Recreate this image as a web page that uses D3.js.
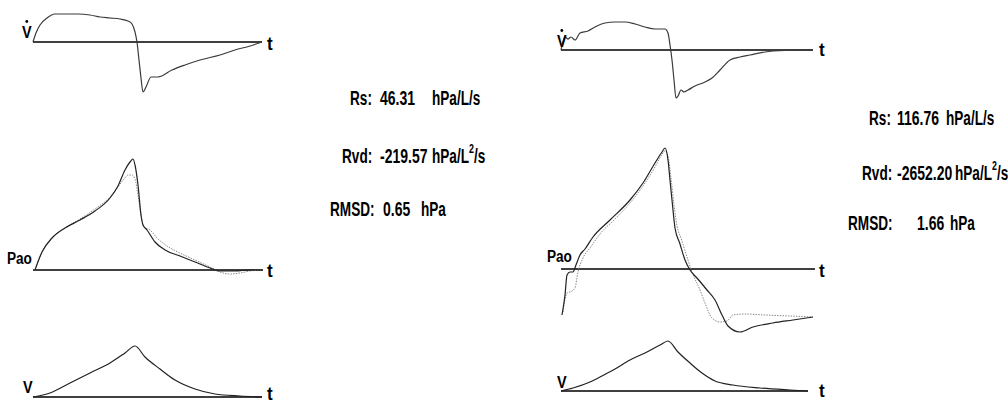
<!DOCTYPE html>
<html>
<head>
<meta charset="utf-8">
<script src="https://cdn.jsdelivr.net/npm/d3@7"></script>
<style>
  html, body { margin: 0; padding: 0; background: #fff; }
  svg { display: block; }
</style>
</head>
<body>
<svg id="chart" width="1008" height="403"></svg>
<script>
// ---- Breath 1 (left): [time s, value] ----
const leftFlow = [
  [0, 0], [0.03, 0.18], [0.07, 0.34], [0.14, 0.48], [0.22, 0.56], [0.45, 0.56],
  [0.57, 0.54], [0.67, 0.50], [0.77, 0.48], [0.87, 0.46], [0.95, 0.42], [0.99, 0.36],
  [1.02, 0.20], [1.04, 0], [1.06, -0.36], [1.08, -0.72], [1.10, -1.00], [1.13, -0.90],
  [1.18, -0.70], [1.25, -0.70], [1.39, -0.56], [1.52, -0.46], [1.67, -0.36],
  [1.87, -0.26], [2.02, -0.16], [2.17, -0.08], [2.29, 0]
];
const leftPaoMeasured = [
  [0.02, 0], [0.09, 1.8], [0.19, 3.2], [0.32, 4.2], [0.47, 5.0], [0.62, 5.9],
  [0.77, 7.2], [0.85, 8.4], [0.92, 10.0], [0.97, 10.8], [1.00, 11.1], [1.02, 10.5],
  [1.05, 8.5], [1.08, 5.5], [1.10, 4.5], [1.14, 4.0], [1.22, 2.8], [1.32, 2.0],
  [1.47, 1.4], [1.62, 0.8], [1.77, 0.2], [1.87, -0.1], [2.02, -0.1], [2.17, 0], [2.29, 0]
];
const leftPaoModel = [
  [0.02, 0], [0.09, 1.8], [0.19, 3.2], [0.32, 4.2], [0.47, 5.1], [0.62, 6.1],
  [0.77, 7.3], [0.85, 8.3], [0.91, 9.1], [0.95, 9.5], [0.99, 9.5], [1.02, 9.1],
  [1.05, 7.5], [1.08, 5.5], [1.11, 4.3], [1.17, 4.0], [1.24, 3.2], [1.34, 2.4],
  [1.47, 1.7], [1.62, 1.0], [1.77, 0.3], [1.87, -0.2], [1.97, -0.4], [2.07, -0.3],
  [2.17, -0.1], [2.29, 0]
];
const leftVolume = [
  [0, 0], [0.17, 0.04], [0.37, 0.14], [0.57, 0.24], [0.77, 0.34], [0.92, 0.44],
  [1.02, 0.51], [1.12, 0.40], [1.27, 0.28], [1.42, 0.17], [1.62, 0.08], [1.82, 0.03],
  [2.07, 0.01], [2.29, 0]
];

// ---- Breath 2 (right): [time s, value] ----
const rightFlow = [
  [0, 0], [0.04, 0.26], [0.07, 0.22], [0.10, 0.26], [0.14, 0.20], [0.19, 0.34],
  [0.27, 0.38], [0.34, 0.46], [0.44, 0.54], [0.54, 0.56], [0.64, 0.56], [0.74, 0.52],
  [0.84, 0.46], [0.94, 0.42], [1.04, 0.42], [1.07, 0.34], [1.09, 0.10], [1.11, -0.20],
  [1.13, -0.60], [1.15, -0.96], [1.17, -0.92], [1.20, -0.80], [1.23, -0.84],
  [1.27, -0.80], [1.34, -0.72], [1.44, -0.64], [1.51, -0.56], [1.59, -0.40],
  [1.69, -0.20], [1.79, -0.14], [1.89, -0.10], [2.04, -0.04], [2.24, -0.01], [2.52, 0]
];
const rightPaoMeasured = [
  [0.01, -4.6], [0.04, -2.6], [0.06, -0.6], [0.09, -0.3], [0.12, -0.3], [0.15, 0.4],
  [0.19, 1.4], [0.24, 2.0], [0.32, 3.2], [0.49, 4.9], [0.69, 6.9], [0.82, 8.6],
  [0.94, 10.6], [1.01, 11.7], [1.04, 12.1], [1.07, 10.9], [1.09, 8.9], [1.11, 6.9],
  [1.14, 4.1], [1.19, 2.5], [1.24, 0.9], [1.29, -0.1], [1.36, -0.9], [1.46, -2.1],
  [1.54, -3.1], [1.61, -4.6], [1.67, -5.7], [1.79, -6.3], [1.92, -5.8], [2.12, -5.4],
  [2.32, -5.1], [2.52, -4.8]
];
const rightPaoModel = [
  [0.02, -4.3], [0.06, -2.4], [0.11, -2.2], [0.14, -1.9], [0.17, -0.3], [0.22, 1.1],
  [0.29, 2.1], [0.39, 3.5], [0.54, 5.0], [0.69, 6.6], [0.84, 8.6], [0.94, 10.2],
  [1.00, 11.3], [1.04, 11.8], [1.07, 11.3], [1.10, 9.1], [1.13, 6.4], [1.16, 4.3],
  [1.20, 3.1], [1.26, 1.2], [1.31, -0.3], [1.39, -2.1], [1.44, -3.4], [1.51, -4.9],
  [1.59, -5.3], [1.66, -5.2], [1.72, -4.6], [1.84, -4.5], [2.04, -4.6], [2.29, -4.7],
  [2.52, -4.8]
];
const rightVolume = [
  [0, 0], [0.12, 0.03], [0.29, 0.09], [0.39, 0.14], [0.54, 0.22], [0.69, 0.31],
  [0.84, 0.38], [0.99, 0.46], [1.07, 0.50], [1.17, 0.39], [1.29, 0.28], [1.41, 0.18],
  [1.54, 0.10], [1.72, 0.06], [1.99, 0.03], [2.29, 0.01], [2.47, 0]
];

// ---- Fitted parameters ----
const statLabels = ["Rs:", "Rvd:", "RMSD:"];
const leftStats = ["46.31", "-219.57", "0.65"];
const rightStats = ["116.76", "-2652.20", "1.66"];
const unitParts = [["hPa/L/s"], ["hPa/L", "2", "/s"], ["hPa"]];
const traceLabels = ["V", "Pao", "V"];
const timeLabel = "t";

// ---- Layout ----
const FONT = "'Liberation Sans', Arial, sans-serif";
const svg = d3.select("#chart");

const columns = [
  {
    xRange: [33, 262], tEnd: 2.29,
    panels: [
      { data: [leftFlow], kind: "flow", axisY: 42, axisEnd: 2.29, label: { x: 22, y: 38 }, dot: true, tY: 50 },
      { data: [leftPaoModel, leftPaoMeasured], kind: "pao", axisY: 270, axisEnd: 2.30, label: { x: 7, y: 264 }, tY: 277 },
      { data: [leftVolume], kind: "vol", axisY: 397, axisEnd: 2.29, label: { x: 23, y: 393 }, tY: 400 }
    ],
    tX: 267,
    stats: leftStats,
    statPos: {
      rows: [
        { y: 105, label: 350, value: 380, unit: 432 },
        { y: 163, label: 342, value: 380, unit: 432 },
        { y: 216, label: 330, value: 383, unit: 421 }
      ]
    }
  },
  {
    xRange: [561, 813], tEnd: 2.52,
    panels: [
      { data: [rightFlow], kind: "flow", axisY: 50, axisEnd: 2.52, label: { x: 557, y: 47 }, dot: true, tY: 56 },
      { data: [rightPaoModel, rightPaoMeasured], kind: "pao", axisY: 269, axisEnd: 2.54, label: { x: 547, y: 262 }, tY: 277 },
      { data: [rightVolume], kind: "vol", axisY: 391, axisEnd: 2.47, label: { x: 557, y: 388 }, tY: 397 }
    ],
    tX: 819,
    stats: rightStats,
    statPos: {
      rows: [
        { y: 125, label: 869, value: 897, unit: 946 },
        { y: 180, label: 862, value: 897, unit: 955 },
        { y: 230, label: 848, value: 917, unit: 950 }
      ]
    }
  }
];

// pixels per unit for each trace kind
const unitPx = { flow: 50, pao: 10, vol: 100 };

// horizontally compressed text (narrow face)
function narrowText(parent, x, y, str, size, sx, weight) {
  return parent.append("text")
    .attr("transform", `translate(${x},${y}) scale(${sx},1)`)
    .attr("font-family", FONT)
    .attr("font-size", size)
    .attr("font-weight", weight || "bold")
    .attr("fill", "#000")
    .text(str);
}

columns.forEach(col => {
  const x = d3.scaleLinear().domain([0, col.tEnd]).range(col.xRange);

  col.panels.forEach((p, i) => {
    const y = d3.scaleLinear().domain([0, 1]).range([p.axisY, p.axisY - unitPx[p.kind]]);
    const g = svg.append("g");

    // time axis (baseline)
    g.append("line")
      .attr("x1", x(0)).attr("x2", x(p.axisEnd))
      .attr("y1", y(0)).attr("y2", y(0))
      .attr("stroke", "#000").attr("stroke-width", 1.4);

    const line = d3.line()
      .x(d => x(d[0]))
      .y(d => y(d[1]))
      .curve(d3.curveMonotoneX);

    p.data.forEach((series, k) => {
      const isModel = p.kind === "pao" && k === 0;
      g.append("path")
        .attr("d", line(series))
        .attr("fill", "none")
        .attr("stroke", isModel ? "#8a8a8a" : (p.kind === "flow" ? "#3a3a3a" : "#222"))
        .attr("stroke-width", isModel ? 1 : 1.2)
        .attr("stroke-dasharray", isModel ? "1.5,1.2" : null);
    });

    // trace label
    narrowText(g, p.label.x, p.label.y, traceLabels[i], 17, i === 1 ? 0.8 : 0.85);
    if (p.dot) {
      g.append("circle")
        .attr("cx", p.label.x + 4.8).attr("cy", p.label.y - 16.5)
        .attr("r", 1.4).attr("fill", "#000");
    }

    // t label at the end of each axis
    narrowText(g, col.tX, p.tY, timeLabel, 19, 0.9);
  });

  // parameter block
  const sg = svg.append("g");
  col.statPos.rows.forEach((r, i) => {
    narrowText(sg, r.label, r.y, statLabels[i], 20, 0.68);
    narrowText(sg, r.value, r.y, col.stats[i], 20, 0.7);
    const parts = unitParts[i];
    if (parts.length === 1) {
      narrowText(sg, r.unit, r.y, parts[0], 20, 0.68);
    } else {
      const t = sg.append("text")
        .attr("transform", `translate(${r.unit},${r.y}) scale(0.68,1)`)
        .attr("font-family", FONT)
        .attr("font-size", 20)
        .attr("font-weight", "bold")
        .attr("fill", "#000");
      t.append("tspan").text(parts[0]);
      t.append("tspan").attr("font-size", 13).attr("dy", -10).text(parts[1]);
      t.append("tspan").attr("dy", 10).text(parts[2]);
    }
  });
});
</script>
</body>
</html>
